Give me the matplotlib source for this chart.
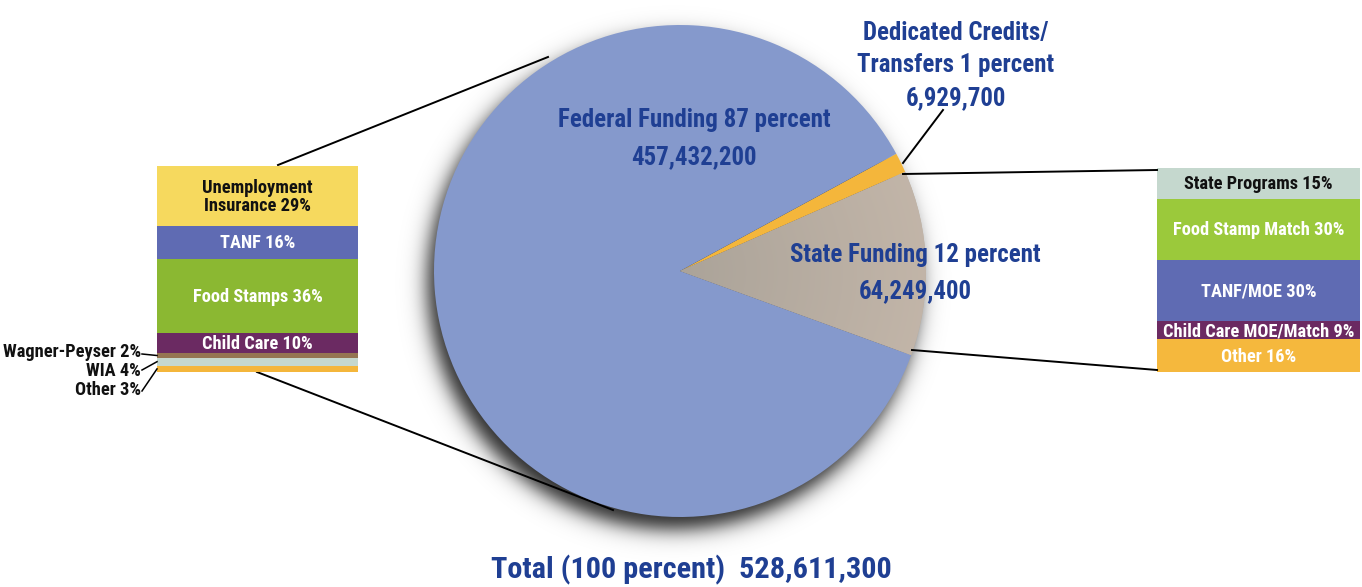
import numpy as np
import matplotlib.pyplot as plt
from matplotlib import font_manager as fm

# Pie: overall funding sources
pie_labels = ["State Funding", "Dedicated Credits/Transfers", "Federal Funding"]
pie_amounts = [64249400, 6929700, 457432200]
pie_colors = ["#B9AEA2", "#F4B63B", "#8599CC"]

# Federal funding breakdown (percent)
fed_labels = ["Unemployment\nInsurance 29%", "TANF 16%", "Food Stamps 36%", "Child Care 10%",
              "Wagner-Peyser 2%", "WIA 4%", "Other 3%"]
fed_pcts = [29, 16, 36, 10, 2, 4, 3]
fed_colors = ["#F6D95E", "#5F6BB3", "#8BB832", "#6B2A62", "#957552", "#C5D8CE", "#F4B63B"]
fed_text = ["#111111", "white", "white", "white", None, None, None]

# State funding breakdown (percent)
state_labels = ["State Programs 15%", "Food Stamp Match 30%", "TANF/MOE 30%",
                "Child Care MOE/Match 9%", "Other 16%"]
state_pcts = [15, 30, 30, 9, 16]
state_colors = ["#C5D8CE", "#9BC93B", "#5F6BB3", "#6B2A62", "#F5B83D"]
state_text = ["#111111", "white", "white", "white", "white"]

W, H = 1362, 587
BLUE = "#1F3F93"


def pick_font():
    # prefer a narrow bold sans, else a fairly narrow regular-width one
    prio = ["Liberation Sans Narrow", "Roboto Condensed", "Open Sans Condensed",
            "DejaVu Sans Condensed", "Noto Sans Condensed", "DejaVu Sans"]
    cands = []
    for f in fm.fontManager.ttflist:
        narrow = ("Narrow" in f.name or "Condensed" in f.name
                  or str(f.stretch) in ("condensed", "semi-condensed", "extra-condensed")
                  or "Condensed" in f.fname or "Narrow" in f.fname)
        w = f.weight
        bold = w == "bold" or (isinstance(w, (int, float)) and w >= 600) or str(w) in ("600", "700", "800")
        if narrow and bold and f.style == "normal":
            cands.append(f)
    if cands:
        cands.sort(key=lambda f: prio.index(f.name) if f.name in prio else len(prio))
        return fm.FontProperties(fname=cands[0].fname)
    return fm.FontProperties(family=["Lato", "DejaVu Sans"], weight="bold")


FP = pick_font()

fig = plt.figure(figsize=(W / 100, H / 100), dpi=100)
ax = fig.add_axes([0, 0, 1, 1])
renderer = fig.canvas.get_renderer()


def fit_size(strings, width):
    fp = FP.copy()
    fp.set_size(20)
    w = max(renderer.get_text_width_height_descent(s, fp, ismath=False)[0] for s in strings)
    return 20 * width / w


def put(x, y, s, size, color, ha="center", va="baseline"):
    fp = FP.copy()
    fp.set_size(size)
    ax.text(x, y, s, ha=ha, va=va, color=color, fontproperties=fp, zorder=5)


cx, cy, r = 680, 271, 246

# soft drop shadow under the pie
gx0, gx1, gy0, gy1 = cx - r - 60, cx + r + 60, cy - r - 20, cy + r + 60
xs = np.arange(gx0, gx1)
ys = np.arange(gy0, gy1)
X, Y = np.meshgrid(xs, ys)
d = np.hypot(X - (cx - 7), Y - (cy + 12))
alpha = 0.85 / (1 + np.exp((d - r) / 6.0))
shadow = np.zeros((len(ys), len(xs), 4))
shadow[..., 3] = alpha
ax.imshow(shadow, extent=(gx0, gx1, gy1, gy0), origin="upper", zorder=1, interpolation="bilinear")

# y axis runs downward here, so clockwise in data reads counter-clockwise on screen
wedges, _ = ax.pie(pie_amounts, colors=pie_colors, center=(cx, cy), radius=r, startangle=20,
                   counterclock=False, wedgeprops=dict(linewidth=0))
for wdg in wedges:
    wdg.set_zorder(3)

# radial shading on the state wedge
dr = np.hypot(X - cx, Y - cy) / r
c0 = np.array([0.67, 0.64, 0.60])
c1 = np.array([0.76, 0.71, 0.66])
shade = np.clip(dr, 0, 1)[..., None] * (c1 - c0) + c0
grad = ax.imshow(shade, extent=(gx0, gx1, gy1, gy0), origin="upper", zorder=3.1,
                 interpolation="bilinear")
grad.set_clip_path(wedges[0])


def stack(x0, x1, top, height, pcts, colors, labels, text_colors, size):
    bottoms = top + np.cumsum([0] + pcts[:-1]) / sum(pcts) * height
    heights = np.array(pcts) / sum(pcts) * height
    ax.bar([(x0 + x1) / 2] * len(pcts), heights, bottom=bottoms, width=x1 - x0,
           color=colors, linewidth=0, zorder=3)
    for b, h, lab, tc in zip(bottoms, heights, labels, text_colors):
        if tc is None:
            continue
        fp = FP.copy()
        fp.set_size(size)
        ax.text((x0 + x1) / 2, b + h / 2 + 1, lab, ha="center", va="center", color=tc,
                fontproperties=fp, linespacing=0.95, zorder=4)
    return bottoms, heights


small = fit_size(["Food Stamps 36%"], 130)
small = min(small, fit_size(["Child Care MOE/Match 9%"], 192))
fb, fh = stack(157, 358, 166, 206, fed_pcts, fed_colors, fed_labels, fed_text, small)
stack(1157, 1360, 168, 204, state_pcts, state_colors, state_labels, state_text, small)

# labels for the thin federal bands with leader lines
small_base = [357, 376, 395]
leader_from = [354, 370, 391]
for i, by, ly in zip(range(4, 7), small_base, leader_from):
    band_mid = fb[i] + fh[i] / 2
    put(141, by, fed_labels[i], small, "#111111", ha="right")
    ax.plot([142, 157], [ly, band_mid], color="black", lw=1.1, zorder=4)

# connector lines between pie and breakdown stacks
lines = [((278, 165), (548, 57)), ((257, 372), (613, 510)),
         ((903, 174), (1157, 170)), ((912, 350), (1157, 370)),
         ((903, 163), (943, 110))]
for (x0, y0), (x1, y1) in lines:
    ax.plot([x0, x1], [y0, y1], color="black", lw=1.4, zorder=2.5 if x0 < 600 else 4)

total = sum(pie_amounts)
pct = [round(v / total * 100) for v in pie_amounts]

big = fit_size([f"Federal Funding {pct[2]} percent"], 272)
put(694, 127, f"Federal Funding {pct[2]} percent", big, BLUE)
put(694, 164, f"{pie_amounts[2]:,}", big, BLUE)
put(915, 262, f"State Funding {pct[0]} percent", big, BLUE)
put(915, 298, f"{pie_amounts[0]:,}", big, BLUE)
put(956, 40, "Dedicated Credits/", big, BLUE)
put(956, 72, f"Transfers {pct[1]} percent", big, BLUE)
put(956, 105, f"{pie_amounts[1]:,}", big, BLUE)

tsize = fit_size([f"Total (100 percent)  {total:,}"], 400)
put(691, 578, f"Total (100 percent)  {total:,}", tsize, BLUE)

ax.set_xlim(0, W)
ax.set_ylim(H, 0)
ax.set_aspect("equal")
ax.axis("off")

fig.savefig("out.png", dpi=100, facecolor="white")
